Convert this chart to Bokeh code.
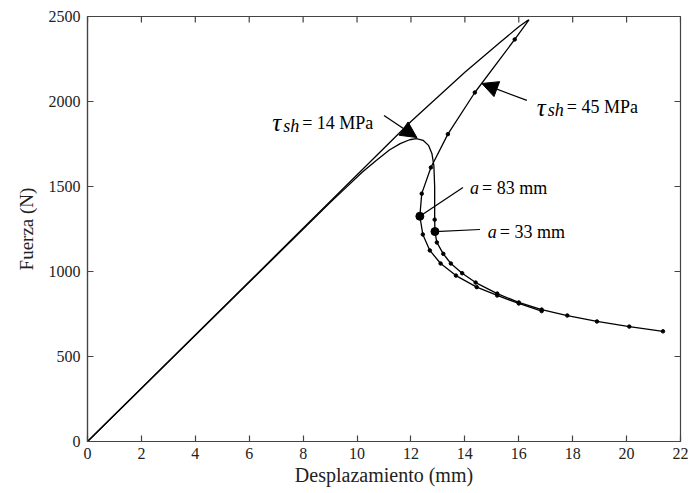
from bokeh.plotting import figure
from bokeh.models import Range1d, FixedTicker, Label, Arrow, NormalHead
from bokeh.embed import file_html
from bokeh.resources import INLINE

x_ticks = [0, 2, 4, 6, 8, 10, 12, 14, 16, 18, 20, 22]
y_ticks = [0, 500, 1000, 1500, 2000, 2500]

# tau_sh = 14 MPa
x14_load = [0, 9.0, 9.6, 10.2, 10.7, 11.2, 11.6, 11.95, 12.2, 12.45, 12.65, 12.78, 12.85, 12.88]
y14_load = [0, 1405, 1495, 1585, 1652, 1715, 1752, 1775, 1782, 1772, 1742, 1692, 1622, 1500]
x14_post = [12.88, 12.89, 12.96, 13.2, 13.48, 13.9, 14.4, 15.2, 16.0, 16.85, 17.8, 18.9, 20.1, 21.35]
y14_post = [1305, 1235, 1171, 1104, 1047, 990, 935, 870, 818, 776, 741, 706, 676, 648]

# tau_sh = 45 MPa
x45_load = [0, 12.0, 14.0, 15.3, 16.0, 16.3, 16.38, 16.25]
y45_load = [0, 1882, 2172, 2347, 2440, 2474, 2480, 2452]
x45_post = [15.85, 14.37, 13.37, 12.74, 12.4, 12.33, 12.44, 12.7, 13.1, 13.67, 14.44, 15.2, 16.0, 16.85]
y45_post = [2365, 2053, 1808, 1612, 1458, 1325, 1218, 1124, 1047, 976, 908, 859, 812, 767]

FONT = "Liberation Serif"
AX = "#444444"

p = figure(width=700, height=493, output_backend="svg", toolbar_location=None,
           x_range=Range1d(0, 22), y_range=Range1d(0, 2500),
           min_border_left=87, min_border_right=20, min_border_top=16, min_border_bottom=52)
p.background_fill_color = "white"
p.border_fill_color = "white"
p.outline_line_color = AX
p.outline_line_width = 1.2
p.xgrid.visible = False
p.ygrid.visible = False

def style(ax, ticks):
    ax.ticker = FixedTicker(ticks=ticks)
    ax.minor_tick_line_color = None
    ax.major_tick_in = 6
    ax.major_tick_out = 0
    ax.axis_line_color = AX
    ax.major_tick_line_color = AX
    ax.axis_line_width = 1.2
    ax.major_tick_line_width = 1.2
    ax.major_label_text_font = FONT
    ax.major_label_text_color = "#222222"
    ax.major_label_text_font_size = "16px"
    ax.axis_label_text_font = FONT
    ax.axis_label_text_font_style = "normal"
    ax.axis_label_text_color = "#222222"

style(p.xaxis[0], x_ticks)
style(p.yaxis[0], y_ticks)
p.xaxis[0].axis_label = "Desplazamiento (mm)"
p.yaxis[0].axis_label = "Fuerza (N)"
p.xaxis[0].axis_label_text_font_size = "20px"
p.yaxis[0].axis_label_text_font_size = "19px"
p.xaxis[0].major_label_standoff = 6
p.yaxis[0].major_label_standoff = 7
p.xaxis[0].axis_label_standoff = 2
p.yaxis[0].axis_label_standoff = 9

# inward ticks on the top and right edges of the box (half of each dash is clipped)
p.scatter(x_ticks, [y_ticks[-1]] * len(x_ticks), marker="dash", angle=1.5707963,
          size=12, line_color=AX, line_width=1.2)
p.scatter([x_ticks[-1]] * len(y_ticks), y_ticks, marker="dash",
          size=12, line_color=AX, line_width=1.2)

LW = 1.3
p.line(x14_load + x14_post, y14_load + y14_post, line_color="black", line_width=LW)
p.line(x45_load + x45_post, y45_load + y45_post, line_color="black", line_width=LW)
p.scatter(x14_post, y14_post, size=3.5, color="black")
p.scatter(x45_post, y45_post, size=3.5, color="black")
p.scatter([x45_post[5]], [y45_post[5]], size=8, color="black")
p.scatter([x14_post[1]], [y14_post[1]], size=8, color="black")

def rich_tau(x, y, number):
    p.add_layout(Label(x=x, y=y, text="\u03c4", text_font=FONT, text_font_style="italic",
                       text_font_size="25px", text_baseline="alphabetic", text_color="black"))
    p.add_layout(Label(x=x, y=y, x_offset=11, y_offset=-3, text="sh", text_font=FONT,
                       text_font_style="italic", text_font_size="18px",
                       text_baseline="alphabetic", text_color="black"))
    p.add_layout(Label(x=x, y=y, x_offset=30, text="= " + number + " MPa", text_font=FONT,
                       text_font_size="18px", text_baseline="alphabetic", text_color="black"))

def a_label(x, y, number):
    p.add_layout(Label(x=x, y=y, text="a", text_font=FONT, text_font_style="italic",
                       text_font_size="18px", text_baseline="alphabetic", text_color="black"))
    p.add_layout(Label(x=x, y=y, x_offset=12, text="= " + number + " mm", text_font=FONT,
                       text_font_size="18px", text_baseline="alphabetic", text_color="black"))

rich_tau(16.67, 1965, "45")
rich_tau(6.85, 1876, "14")

head_kw = dict(size=16, fill_color="black", line_color="black")
p.add_layout(Arrow(end=NormalHead(**head_kw), x_start=16.30, y_start=2006, x_end=14.63, y_end=2106,
                   line_color="black", line_width=1.3))
p.add_layout(Arrow(end=NormalHead(**head_kw), x_start=11.0, y_start=1918, x_end=12.22, y_end=1788,
                   line_color="black", line_width=1.3))

a_label(14.19, 1494, "83")
a_label(14.85, 1230, "33")
p.line([x45_post[5], 13.93], [y45_post[5], 1494], line_color="black", line_width=1.2)
p.line([x14_post[1], 14.56], [y14_post[1], 1247], line_color="black", line_width=1.2)

open("out.html", "w").write(file_html(p, INLINE))
